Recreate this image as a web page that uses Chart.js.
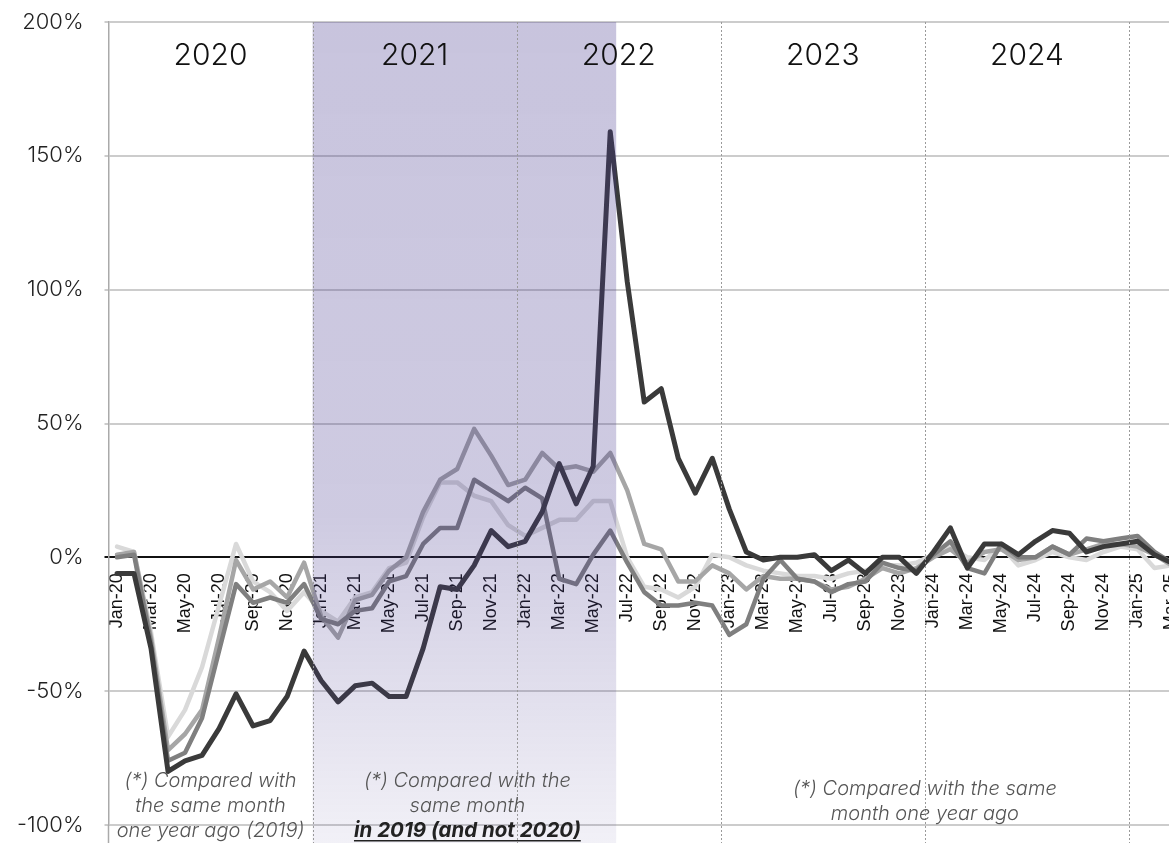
<!DOCTYPE html>
<html>
<head>
<meta charset="utf-8">
<script src="https://cdn.jsdelivr.net/npm/chart.js@4.4.1/dist/chart.umd.min.js"></script>
<style>
  html, body { margin: 0; padding: 0; background: #fff; overflow: hidden; }
  #wrap { position: relative; width: 1180px; height: 843px; }
</style>
</head>
<body>
<div id="wrap"><canvas id="chart" width="1180" height="843"></canvas></div>
<script>
const monthNames = ['Jan','Feb','Mar','Apr','May','Jun','Jul','Aug','Sep','Oct','Nov','Dec'];
const yearSuffixes = ['20','21','22','23','24','25'];
const monthCount = 63; // Jan-20 .. Mar-25

const yearLabels = ['2020','2021','2022','2023','2024'];
const yTickValues = [-100, -50, 0, 50, 100, 150, 200];

// darkest line
const seriesDark = [
  -6, -6, -34, -80, -76, -74, -64, -51, -63, -61, -52, -35,
  -46, -54, -48, -47, -52, -52, -34, -11, -12, -3, 10, 4,
  6, 17, 35, 20, 34, 159, 103, 58, 63, 37, 24, 37,
  18, 2, -1, 0, 0, 1, -5, -1, -6, 0, 0, -6,
  2, 11, -4, 5, 5, 1, 6, 10, 9, 2, 4, 5,
  6, 1, -2
];
// dark grey line
const seriesGrey1 = [
  0, 1, -32, -76, -73, -60, -35, -10, -17, -15, -17, -10,
  -23, -25, -20, -19, -9, -7, 5, 11, 11, 29, 25, 21,
  26, 22, -8, -10, 1, 10, -2, -13, -18, -18, -17, -18,
  -29, -25, -8, -1, -8, -9, -13, -10, -9, -2, -4, -5,
  1, 6, -4, -6, 5, 0, 0, 4, 1, 7, 6, 7,
  8, 2, -2
];
// mid grey line
const seriesGrey2 = [
  1, 2, -30, -72, -66, -57, -30, -1, -12, -9, -15, -2,
  -22, -30, -16, -14, -5, 0, 17, 29, 33, 48, 38, 27,
  29, 39, 33, 34, 32, 39, 25, 5, 3, -9, -9, -3,
  -6, -12, -7, -8, -8, -9, -12, -11, -8, -4, -6, -4,
  0, 3, -2, 2, 3, -1, 0, 4, 1, 3, 5, 5,
  4, 1, -3
];
// light grey line
const seriesGrey3 = [
  4, 2, -28, -67, -57, -41, -18, 5, -9, -13, -20, -13,
  -20, -24, -15, -13, -4, -2, 15, 28, 28, 23, 21, 12,
  8, 11, 14, 14, 21, 21, 0, -11, -12, -15, -11, 1,
  0, -3, -5, -6, -7, -7, -8, -6, -5, -3, -3, -2,
  1, 4, 0, -1, 4, -3, -1, 2, 0, -1, 2, 4,
  3, -4, -3
];

const labels = [];
for (let i = 0; i < monthCount; i++) {
  labels.push(monthNames[i % 12] + '-' + yearSuffixes[Math.floor(i / 12)]);
}

const overlayPlugin = {
  id: 'overlay',
  afterDatasetsDraw(chart) {
    const ctx = chart.ctx;
    const area = chart.chartArea;
    const x = chart.scales.x;
    const y = chart.scales.y;
    const w = x.getPixelForValue(1) - x.getPixelForValue(0);
    const H = chart.height;

    ctx.save();
    // shaded 2021 - mid 2022 band (drawn on top of the lines)
    const sx0 = x.getPixelForValue(12) - w / 2;
    const sx1 = x.getPixelForValue(29) + w * 0.35;
    const g = ctx.createLinearGradient(0, area.top, 0, H);
    g.addColorStop(0, 'rgba(66,52,140,0.29)');
    g.addColorStop(0.6, 'rgba(66,52,140,0.26)');
    g.addColorStop(1, 'rgba(66,52,140,0.07)');
    ctx.fillStyle = g;
    ctx.fillRect(sx0, area.top, sx1 - sx0, H - area.top);

    // dotted year separators
    ctx.strokeStyle = '#9a9a9a';
    ctx.lineWidth = 1;
    ctx.setLineDash([2, 2]);
    for (let i = 12; i < monthCount; i += 12) {
      const px = Math.round(x.getPixelForValue(i) - w / 2) + 0.5;
      ctx.beginPath();
      ctx.moveTo(px, area.top);
      ctx.lineTo(px, H);
      ctx.stroke();
    }
    ctx.setLineDash([]);

    // extend the y axis line to the bottom edge
    ctx.strokeStyle = '#aaaaaa';
    ctx.lineWidth = 1.5;
    ctx.beginPath();
    ctx.moveTo(area.left, area.bottom);
    ctx.lineTo(area.left, H);
    ctx.stroke();

    // year headings
    ctx.fillStyle = '#111';
    ctx.font = '300 30px Inter';
    ctx.textAlign = 'center';
    ctx.textBaseline = 'middle';
    yearLabels.forEach(function(lbl, k) {
      const cx = (x.getPixelForValue(k * 12) + x.getPixelForValue(k * 12 + 11)) / 2;
      ctx.fillText(lbl, cx, area.top + 34);
    });

    // notes
    const line1 = y.getPixelForValue(-83.5);
    const step = 25;
    ctx.fillStyle = '#555';
    ctx.font = 'italic 300 20px Inter';
    const c1 = (x.getPixelForValue(0) + x.getPixelForValue(11)) / 2;
    ctx.fillText('(*) Compared with', c1, line1);
    ctx.fillText('the same month', c1, line1 + step);
    ctx.fillText('one year ago (2019)', c1, line1 + step * 2);

    const c2 = (sx0 + sx1) / 2 + 3;
    ctx.fillText('(*) Compared with the', c2, line1);
    ctx.fillText('same month', c2, line1 + step);
    ctx.fillStyle = '#222';
    ctx.font = 'italic bold 20.5px Inter';
    const boldTxt = 'in 2019 (and not 2020)';
    ctx.fillText(boldTxt, c2, line1 + step * 2);
    const bw = ctx.measureText(boldTxt).width;
    ctx.strokeStyle = '#222';
    ctx.lineWidth = 1.5;
    ctx.beginPath();
    ctx.moveTo(c2 - bw / 2, line1 + step * 2 + 10);
    ctx.lineTo(c2 + bw / 2, line1 + step * 2 + 10);
    ctx.stroke();

    ctx.fillStyle = '#555';
    ctx.font = 'italic 300 20px Inter';
    const c3 = x.getPixelForValue(47.5);
    ctx.fillText('(*) Compared with the same', c3, line1 + 8);
    ctx.fillText('month one year ago', c3, line1 + 8 + step);
    ctx.restore();
  }
};

function lineSet(data, color, width) {
  return {
    data: data,
    borderColor: color,
    borderWidth: width,
    pointRadius: 0,
    tension: 0,
    fill: false,
    borderJoinStyle: 'round',
    borderCapStyle: 'round'
  };
}

const ctx = document.getElementById('chart').getContext('2d');
const chart = new Chart(ctx, {
  type: 'line',
  data: {
    labels: labels,
    datasets: [
      lineSet(seriesDark, '#3a3a3a', 5),
      lineSet(seriesGrey1, '#7f7f7f', 4.5),
      lineSet(seriesGrey2, '#a6a6a6', 4.5),
      lineSet(seriesGrey3, '#d9d9d9', 4.5)
    ]
  },
  options: {
    responsive: false,
    animation: false,
    layout: { padding: { top: 22, bottom: 18, left: 0, right: 0 } },
    plugins: { legend: { display: false }, tooltip: { enabled: false } },
    scales: {
      x: {
        type: 'category',
        offset: true,
        position: { y: 0 },
        afterFit: function(scale) { scale.paddingLeft = 0; scale.paddingRight = 0; },
        grid: { display: false },
        border: { display: true, color: '#111', width: 2 },
        ticks: {
          autoSkip: false,
          minRotation: 90,
          maxRotation: 90,
          padding: 8,
          color: '#111',
          font: { family: 'Liberation Sans', size: 18 },
          callback: function(v, i) {
            return i % 2 === 0 ? this.getLabelForValue(v) : '';
          }
        }
      },
      y: {
        min: -100,
        max: 200,
        afterBuildTicks: function(scale) {
          scale.ticks = yTickValues.map(function(v) { return { value: v }; });
        },
        afterFit: function(scale) {
          scale.width = 108.5;
          scale.paddingTop = 0;
          scale.paddingBottom = 0;
        },
        grid: {
          color: function(c) { return c.tick && c.tick.value === 0 ? '#111' : '#cccccc'; },
          lineWidth: 2,
          tickLength: 4
        },
        border: { color: '#aaaaaa', width: 1.5 },
        ticks: {
          padding: 21,
          color: '#222',
          font: { family: 'Inter', size: 22, weight: 300 },
          callback: function(v) { return v + '%'; }
        }
      }
    }
  },
  plugins: [overlayPlugin]
});
</script>
</body>
</html>
